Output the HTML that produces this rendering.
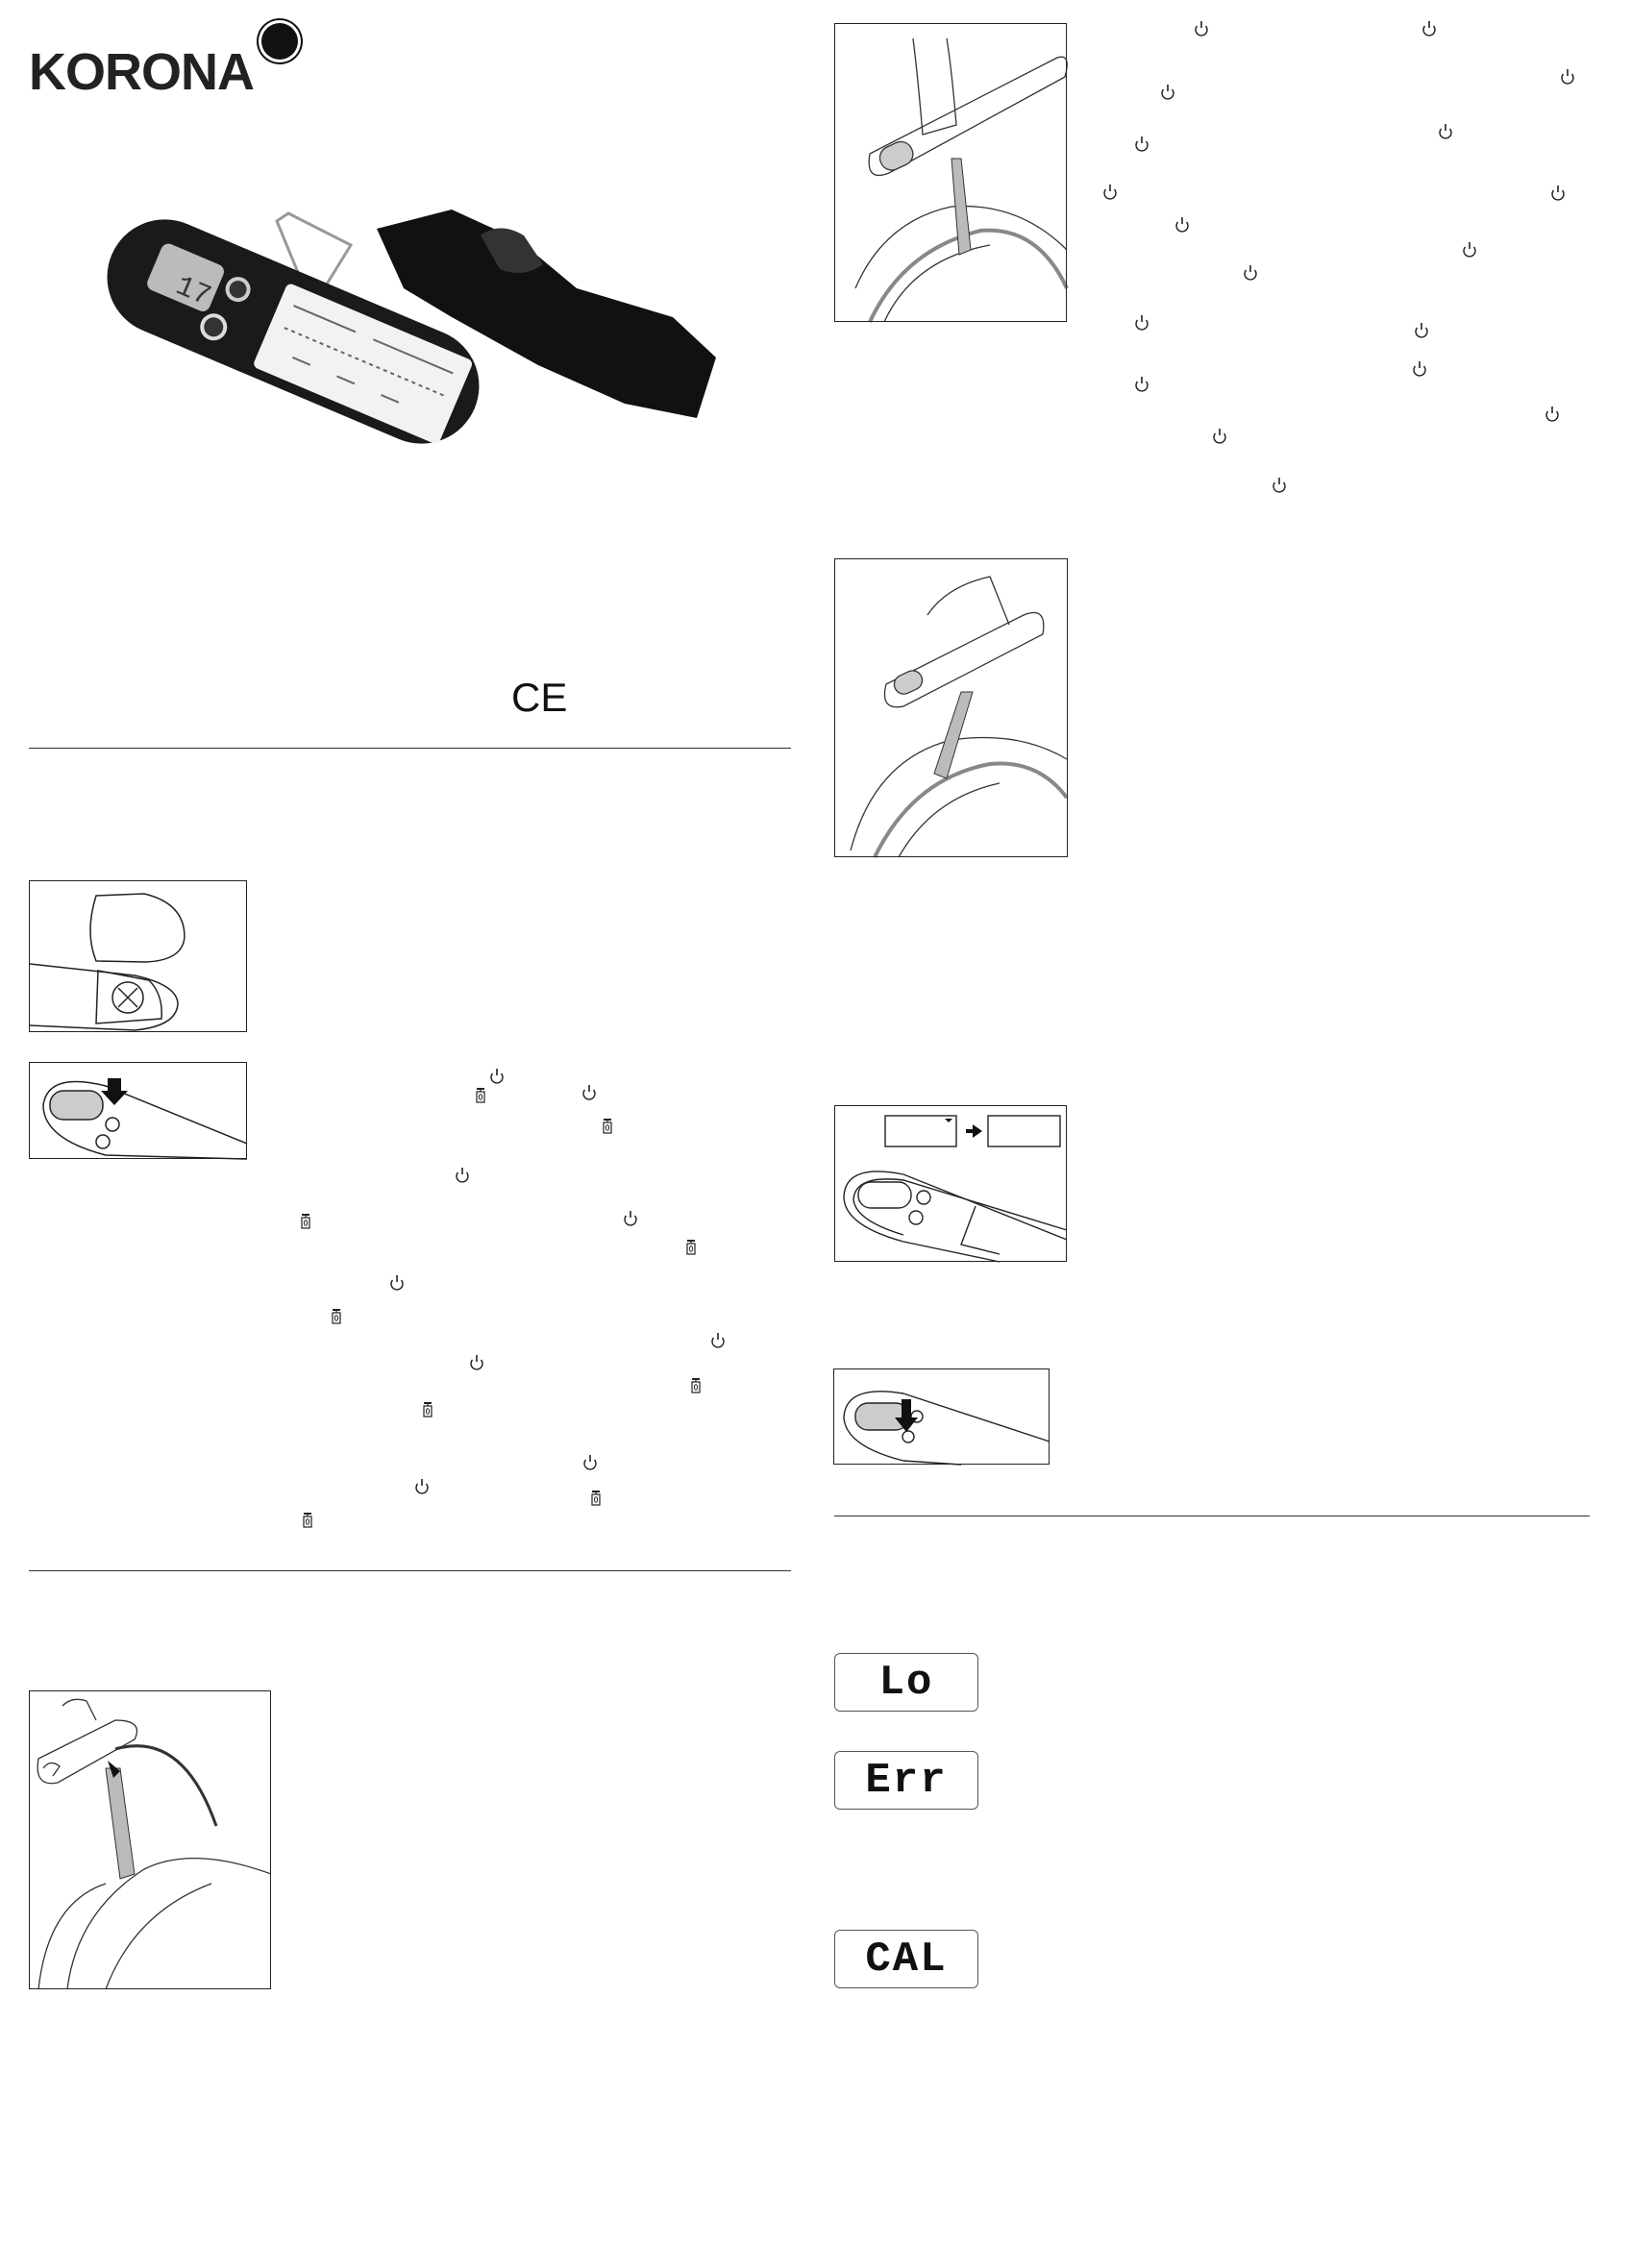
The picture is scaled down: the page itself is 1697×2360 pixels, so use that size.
<!DOCTYPE html>
<html><head><meta charset="utf-8"><style>
body{margin:0;background:#fff;}
#p{position:relative;width:1697px;height:2360px;overflow:hidden;background:#fff;font-family:"Liberation Sans",sans-serif;}
.a{position:absolute;}
.box{position:absolute;border:1.5px solid #222;box-sizing:border-box;overflow:hidden;background:#fff;}
.hr{position:absolute;height:0;border-top:1.5px solid #333;}
.lcd{position:absolute;width:150px;height:61px;border:1.5px solid #555;border-radius:6px;box-sizing:border-box;text-align:center;font:bold 44px/61px "Liberation Mono",monospace;color:#111;letter-spacing:2px;}
</style></head><body><div id="p">

<div class="a" style="left:30px;top:48px;font:bold 54px/1 'Liberation Sans',sans-serif;color:#222;letter-spacing:-1px">KORONA</div>
<div class="a" style="left:272px;top:24px;width:38px;height:38px;border-radius:50%;background:#111;box-shadow:0 0 0 3px #fff,0 0 0 5px #111"></div>

<svg class="a" style="left:0;top:0" width="1697" height="2360">
<defs>
<g id="pw"><path d="M-4.5,-3 A6,6 0 1 0 4.5,-3" fill="none" stroke="#222" stroke-width="1.4"/><line x1="0" y1="-8" x2="0" y2="-1" stroke="#222" stroke-width="1.6"/></g>
<g id="tr"><rect x="-4" y="-4" width="8" height="11" fill="none" stroke="#222" stroke-width="1.2"/><line x1="-4" y1="-7" x2="4" y2="-7" stroke="#222" stroke-width="2"/><line x1="0" y1="-7" x2="0" y2="-4" stroke="#222" stroke-width="1.2"/><ellipse cx="0" cy="1.5" rx="1.6" ry="2.8" fill="none" stroke="#222" stroke-width="1"/></g>
</defs>
<!-- product photo -->
<g>
<path d="M392,238 L470,218 L540,250 L600,300 L700,330 L745,372 L725,435 L650,420 L560,380 L470,330 L420,300 Z" fill="#111"/>
<path d="M500,245 q20,-15 45,0 l20,30 q-20,15 -45,5z" fill="#333"/>
<path d="M288,230 L300,222 L365,255 L325,320 Z" fill="none" stroke="#999" stroke-width="3"/>
<g transform="translate(305,345) rotate(23)">
<rect x="-205" y="-60" width="410" height="120" rx="60" fill="#1a1a1a"/>
<rect x="-160" y="-34" width="70" height="52" rx="8" fill="#bbb"/>
<text x="-130" y="10" font-family="Liberation Mono" font-size="30" fill="#333">17</text>
<circle cx="-70" cy="-18" r="13" fill="#ccc"/><circle cx="-70" cy="-18" r="9" fill="#333"/>
<circle cx="-78" cy="28" r="14" fill="#ddd"/><circle cx="-78" cy="28" r="10" fill="#333"/>
<rect x="-25" y="-45" width="210" height="95" rx="6" fill="#f2f2f2"/>
<g stroke="#666" stroke-width="2"><line x1="-10" y1="-25" x2="60" y2="-25"/><line x1="80" y1="-25" x2="170" y2="-25"/><line x1="-10" y1="0" x2="170" y2="0" stroke-dasharray="4 4"/><line x1="10" y1="25" x2="30" y2="25"/><line x1="60" y1="25" x2="80" y2="25"/><line x1="110" y1="25" x2="130" y2="25"/></g>
</g>
</g>
<text x="532" y="740" font-family="Liberation Sans" font-size="42" fill="#111">CE</text>

<!-- battery box drawing -->
<g stroke="#222" stroke-width="1.5" fill="none">
<path d="M100,932 L150,930 Q192,940 192,975 Q190,1000 150,1001 L100,1000 Q88,970 100,932Z"/>
<path d="M31,1003 L140,1015 Q185,1025 185,1045 Q183,1068 140,1072 L31,1067"/>
<path d="M102,1010 L155,1020 Q170,1035 168,1060 L100,1065Z"/>
<circle cx="133" cy="1038" r="16"/><line x1="123" y1="1028" x2="143" y2="1048"/><line x1="143" y1="1028" x2="123" y2="1048"/>
</g>
<!-- button box -->
<g stroke="#222" stroke-width="1.5" fill="none">
<path d="M257,1190 L110,1130 Q50,1115 45,1150 Q45,1185 110,1202 L257,1206"/>
<rect x="52" y="1135" width="55" height="30" rx="14" fill="#ccc"/>
<circle cx="117" cy="1170" r="7"/><circle cx="107" cy="1188" r="7"/>
</g>
<path d="M112,1122 L126,1122 L126,1135 L133,1135 L119,1150 L105,1135 L112,1135Z" fill="#111"/>
<!-- luggage left -->
<g stroke="#333" stroke-width="1.3" fill="none">
<path d="M40,1830 L120,1790 Q150,1790 140,1810 L60,1855 Q35,1860 40,1830Z"/>
<path d="M45,1840 Q52,1830 62,1838 L55,1848"/>
<path d="M70,2070 Q80,1990 150,1945 Q200,1920 282,1950"/>
<path d="M40,2070 Q50,1980 110,1960"/>
<path d="M110,2070 Q140,1990 220,1960"/>
<path d="M120,1820 Q190,1800 225,1900" stroke-width="3"/>
<path d="M65,1775 Q75,1765 90,1770 L100,1790"/>
</g>
<polygon points="110,1840 125,1840 140,1950 125,1955" fill="#bbb" stroke="#333"/>
<path d="M112,1832 L125,1843 L118,1850Z" fill="#111"/>

<!-- right box A drawing -->
<g stroke="#333" stroke-width="1.3" fill="none">
<path d="M905,160 L1100,60 Q1115,55 1108,80 L925,180 Q900,190 905,160Z"/>
<rect x="915" y="150" width="35" height="25" rx="12" fill="#ccc" transform="rotate(-25 932 162)"/>
<path d="M950,40 Q955,80 960,140 L995,130 Q990,70 985,40"/>
<path d="M890,300 Q920,230 990,215 Q1060,210 1110,260"/>
<path d="M905,335 Q940,260 1020,240 Q1080,235 1110,300" stroke="#888" stroke-width="4"/>
<path d="M920,335 Q950,270 1030,255"/>
</g>
<polygon points="990,165 1000,165 1010,260 998,265" fill="#bbb" stroke="#333"/>
<!-- right box B drawing -->
<g stroke="#333" stroke-width="1.3" fill="none">
<path d="M922,712 L1065,640 Q1090,630 1085,660 L940,735 Q915,740 922,712Z"/>
<rect x="930" y="700" width="30" height="20" rx="10" fill="#ccc" transform="rotate(-25 945 710)"/>
<path d="M965,640 Q985,610 1030,600 L1050,650"/>
<path d="M885,885 Q910,790 990,770 Q1060,760 1110,790"/>
<path d="M910,892 Q950,810 1030,795 Q1080,790 1110,830" stroke="#888" stroke-width="4"/>
<path d="M935,892 Q970,830 1040,815"/>
</g>
<polygon points="1000,720 1012,720 985,810 972,805" fill="#bbb" stroke="#333"/>
<!-- right box C -->
<g stroke="#222" stroke-width="1.4" fill="none">
<rect x="921" y="1161" width="74" height="32"/>
<rect x="1028" y="1161" width="75" height="32"/>
<path d="M1110,1290 L940,1222 Q880,1210 878,1245 Q878,1275 940,1292 L1040,1313"/>
<path d="M1110,1280 L940,1228 Q890,1222 888,1248 Q890,1270 940,1285"/>
<rect x="893" y="1230" width="55" height="27" rx="13"/>
<circle cx="961" cy="1246" r="7"/><circle cx="953" cy="1267" r="7"/>
<path d="M1015,1255 L1000,1295 L1040,1305"/>
</g>
<path d="M983,1164 L991,1164 L987,1168Z" fill="#111"/>
<path d="M1005,1175 L1012,1175 L1012,1170 L1022,1177 L1012,1184 L1012,1179 L1005,1179Z" fill="#111"/>
<!-- right box D -->
<g stroke="#222" stroke-width="1.4" fill="none">
<path d="M1092,1500 L940,1450 Q880,1440 878,1475 Q880,1505 940,1520 L1000,1524"/>
<rect x="890" y="1460" width="55" height="28" rx="13" fill="#ccc"/>
<circle cx="954" cy="1474" r="6"/><circle cx="945" cy="1495" r="6"/>
</g>
<path d="M938,1456 L948,1456 L948,1475 L955,1475 L943,1490 L931,1475 L938,1475Z" fill="#111"/>

<!-- icons -->
<g>
<use href="#pw" x="1250" y="30"/><use href="#pw" x="1487" y="30"/><use href="#pw" x="1215" y="96"/><use href="#pw" x="1631" y="80"/>
<use href="#pw" x="1188" y="150"/><use href="#pw" x="1504" y="137"/><use href="#pw" x="1155" y="200"/><use href="#pw" x="1621" y="201"/>
<use href="#pw" x="1230" y="234"/><use href="#pw" x="1529" y="260"/><use href="#pw" x="1301" y="284"/><use href="#pw" x="1188" y="336"/>
<use href="#pw" x="1479" y="344"/><use href="#pw" x="1188" y="400"/><use href="#pw" x="1477" y="384"/><use href="#pw" x="1615" y="431"/>
<use href="#pw" x="1269" y="454"/><use href="#pw" x="1331" y="505"/>
<use href="#pw" x="517" y="1120"/><use href="#pw" x="613" y="1137"/><use href="#pw" x="481" y="1223"/><use href="#pw" x="656" y="1268"/>
<use href="#pw" x="413" y="1335"/><use href="#pw" x="747" y="1395"/><use href="#pw" x="496" y="1418"/><use href="#pw" x="614" y="1522"/><use href="#pw" x="439" y="1547"/>
<use href="#tr" x="500" y="1140"/><use href="#tr" x="632" y="1172"/><use href="#tr" x="318" y="1271"/><use href="#tr" x="719" y="1298"/>
<use href="#tr" x="350" y="1370"/><use href="#tr" x="724" y="1442"/><use href="#tr" x="445" y="1467"/><use href="#tr" x="620" y="1559"/><use href="#tr" x="320" y="1582"/>
</g>
</svg>

<div class="box" style="left:30px;top:916px;width:227px;height:158px;background:none"></div>
<div class="box" style="left:30px;top:1105px;width:227px;height:101px;background:none"></div>
<div class="box" style="left:30px;top:1759px;width:252px;height:311px;background:none"></div>
<div class="box" style="left:868px;top:24px;width:242px;height:311px;background:none"></div>
<div class="box" style="left:868px;top:581px;width:243px;height:311px;background:none"></div>
<div class="box" style="left:868px;top:1150px;width:242px;height:163px;background:none"></div>
<div class="box" style="left:867px;top:1424px;width:225px;height:100px;background:none"></div>

<div class="hr" style="left:30px;top:778px;width:793px"></div>
<div class="hr" style="left:30px;top:1634px;width:793px"></div>
<div class="hr" style="left:868px;top:1577px;width:786px"></div>

<div class="lcd" style="left:868px;top:1720px">Lo</div>
<div class="lcd" style="left:868px;top:1822px">Err</div>
<div class="lcd" style="left:868px;top:2008px">CAL</div>
</div></body></html>
